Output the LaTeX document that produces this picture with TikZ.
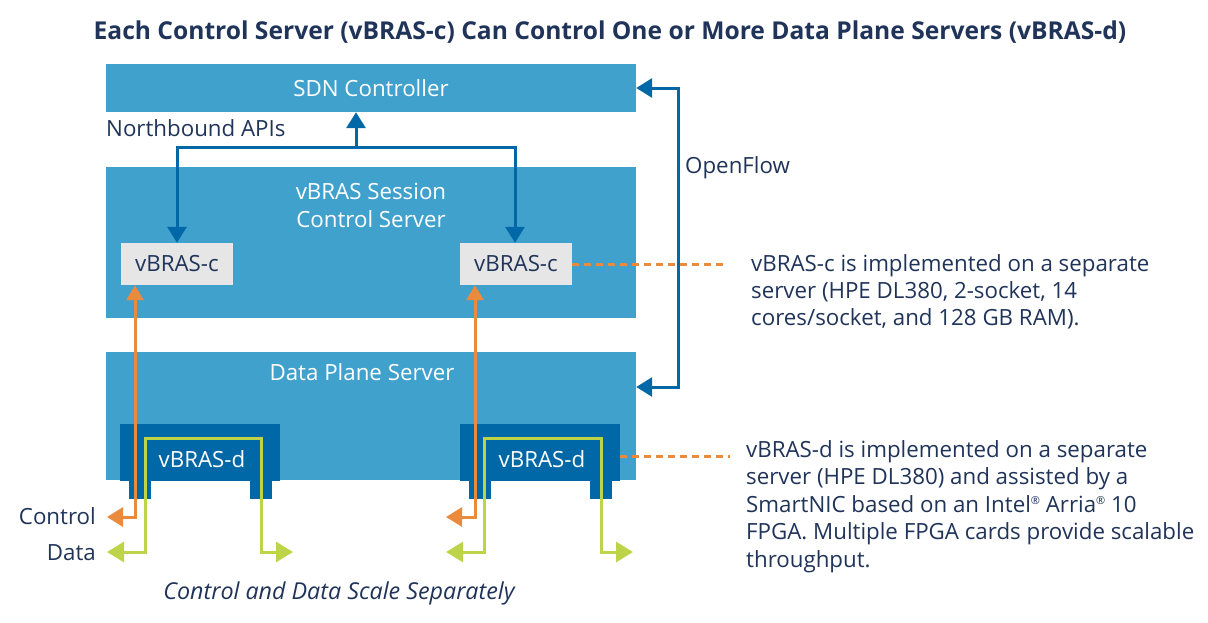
\documentclass[tikz,border=0pt]{standalone}
\usepackage{fontspec}
\setmainfont{Open Sans}
\usetikzlibrary{arrows.meta}
\definecolor{lblue}{RGB}{65,161,205}
\definecolor{dblue}{RGB}{0,104,166}
\definecolor{cgray}{RGB}{230,230,230}
\definecolor{navy}{RGB}{32,52,90}
\definecolor{corange}{RGB}{234,138,60}
\definecolor{cgreen}{RGB}{190,212,72}
\newcommand{\regmark}{\raisebox{0.62ex}{\fontsize{11}{11}\selectfont ®}}
\begin{document}
\begin{tikzpicture}[x=1pt,y=-1pt,
  font=\fontsize{22.3}{27.5}\selectfont,
  panel/.style={fill=lblue, draw=none, inner sep=0pt, minimum width=530pt, text=white},
  cbox/.style={fill=cgray, draw=none, inner sep=0pt, minimum width=112pt, minimum height=42pt, text=navy},
  dbox/.style={fill=dblue, draw=none, inner sep=0pt, minimum width=160pt, minimum height=57pt, text=white},
  leg/.style={fill=dblue, draw=none, inner sep=0pt, minimum width=22pt, minimum height=18pt},
  lbl/.style={text=navy, inner sep=0pt},
  bline/.style={draw=dblue, line width=3pt},
  oline/.style={draw=corange, line width=3pt},
  gline/.style={draw=cgreen, line width=3pt},
  odash/.style={draw=corange, line width=3pt, dash pattern=on 7pt off 5pt},
]
\useasboundingbox (0,0) rectangle (1208,622);
\fill[white] (0,0) rectangle (1208,622);

% title
\node[lbl, font=\bfseries\fontsize{24.6}{28}\selectfont] (title) at (610,32)
  {Each Control Server (vBRAS-c) Can Control One or More Data Plane Servers (vBRAS-d)};

% panels
\node[panel, minimum height=48pt] (sdn) at (371,88) {SDN Controller};
\node[panel, minimum height=151pt] (vsc) at (371,242.5) {};
\node[text=white, align=center, inner sep=0pt, font=\fontsize{22.3}{28}\selectfont] (vsclbl) at (371,205) {vBRAS Session\\Control Server};
\node[panel, minimum height=128pt] (dps) at (371,416) {};
\node[text=white, inner sep=0pt] (dpslbl) at (362,372) {Data Plane Server};

% vBRAS-c
\node[cbox] (c1) at (177,264) {vBRAS-c};
\node[cbox] (c2) at (516,264) {vBRAS-c};

% legs
\node[leg] (l1a) at (140,490) {};
\node[leg] (l1b) at (261,490) {};
\node[leg] (l2a) at (479.5,490) {};
\node[leg] (l2b) at (601,490) {};

% vBRAS-d
\node[dbox] (d1) at (200,452.5) {};
\node[dbox] (d2) at (540,452.5) {};
\node[text=white, inner sep=0pt] (d1lbl) at (202,459) {vBRAS-d};
\node[text=white, inner sep=0pt] (d2lbl) at (542,459) {vBRAS-d};

% orange control lines
\coordinate (oc1) at (107,517);
\coordinate (oc2) at (446,517);
\draw[oline, {Triangle[length=16pt,width=19pt]}-{Triangle[length=15pt,width=17pt]}]
  (oc1) -| ([xshift=-42pt]c1.south);
\draw[oline, {Triangle[length=16pt,width=19pt]}-{Triangle[length=15pt,width=17pt]}]
  (oc2) -| ([xshift=-41pt]c2.south);

% green data lines
\coordinate (gl1) at (107,552);
\coordinate (gr1) at (293,552);
\coordinate (gl2) at (446,552);
\coordinate (gr2) at (633,552);
\draw[gline, {Triangle[length=17pt,width=20pt]}-{Triangle[length=17pt,width=20pt]}]
  (gl1) -| (145,438) -- (261,438) |- (gr1);
\draw[gline, {Triangle[length=17pt,width=20pt]}-{Triangle[length=17pt,width=20pt]}]
  (gl2) -| (484,438) -- (601,438) |- (gr2);

% northbound
\coordinate (nb) at (356,147);
\draw[bline, -{Triangle[length=16pt,width=19pt]}] (nb) -- ([xshift=-15pt]sdn.south);
\draw[bline, {Triangle[length=16pt,width=19pt]}-{Triangle[length=16pt,width=19pt]}]
  (c1.north) |- (nb) -| ([xshift=-1pt]c2.north);

% openflow
\coordinate (ofc) at (678,240);
\draw[bline, {Triangle[length=16pt,width=19pt]}-{Triangle[length=16pt,width=19pt]}]
  (sdn.east) -| (ofc) |- ([yshift=29pt]dps.east);

% dashed callouts
\coordinate (dc2) at (728,264);
\coordinate (dd2) at (730,456);
\draw[odash] (c2.east) -- (dc2);
\draw[odash] ([yshift=-3.5pt]d2.east) -- (dd2);

% labels
\node[lbl, anchor=west] (nbl) at (106,128) {Northbound APIs};
\node[lbl, anchor=west] (ofl) at (685,168) {OpenFlow};
\node[lbl, anchor=east] (ctl) at (96,516) {Control};
\node[lbl, anchor=east] (dtl) at (96,553) {Data};
\node[lbl, font=\itshape\fontsize{23.3}{27}\selectfont] (cap) at (339,593) {Control and Data Scale Separately};

\node[lbl, anchor=north west, align=left, font=\fontsize{22.3}{27}\selectfont] (note1) at (751,254)
  {vBRAS-c is implemented on a separate\\server (HPE DL380, 2-socket, 14\\cores/socket, and 128 GB RAM).};
\node[lbl, anchor=north west, align=left] (note2) at (746,440)
  {vBRAS-d is implemented on a separate\\server (HPE DL380) and assisted by a\\SmartNIC based on an Intel\regmark{} Arria\regmark{} 10\\FPGA. Multiple FPGA cards provide scalable\\throughput.};
\end{tikzpicture}
\end{document}
